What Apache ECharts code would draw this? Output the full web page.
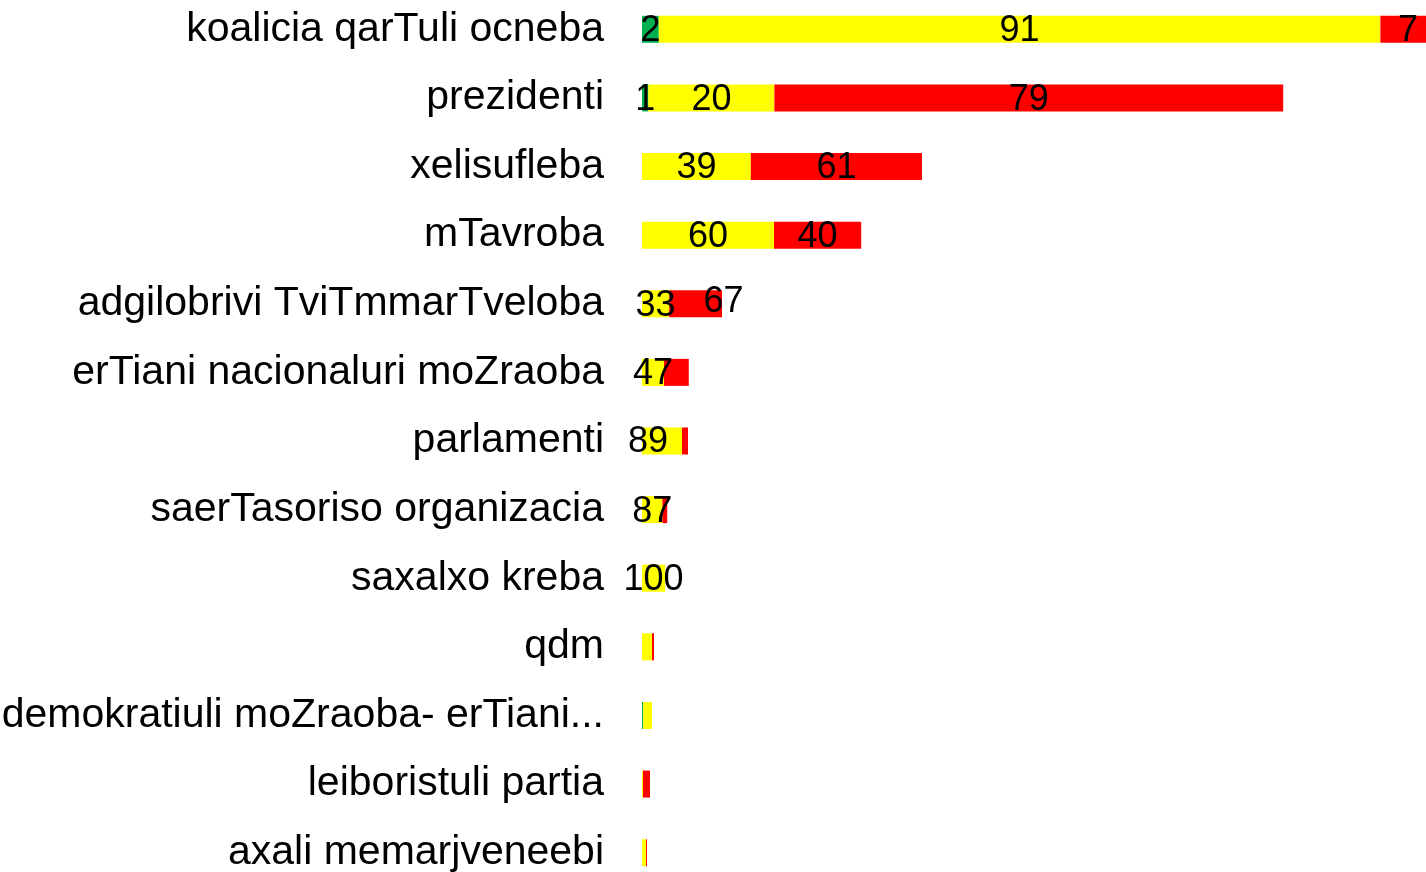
<!DOCTYPE html>
<html>
<head>
<meta charset="utf-8">
<title>chart</title>
<script src="https://cdn.jsdelivr.net/npm/echarts@6/dist/echarts.min.js"></script>
<style>
    html, body {margin: 0; padding: 0; background: #fff;}
    #main {width: 1426px; height: 872px;}
</style>
</head>
<body>
<div id="main"></div>
<script>
// categories, top to bottom
const categories = ['koalicia qarTuli ocneba', 'prezidenti', 'xelisufleba', 'mTavroba',
    'adgilobrivi TviTmmarTveloba', 'erTiani nacionaluri moZraoba', 'parlamenti',
    'saerTasoriso organizacia', 'saxalxo kreba', 'qdm', 'demokratiuli moZraoba- erTiani...',
    'leiboristuli partia', 'axali memarjveneebi'];

// bar lengths
const greenValues = [2.1, 0.8, 0, 0, 0, 0, 0, 0, 0, 0, 0.15, 0, 0];
const yellowValues = [90.2, 15.75, 13.6, 16.5, 3.4, 2.75, 5.0, 2.55, 2.9, 1.25, 1.1, 0.12, 0.5];
const redValues = [6.9, 63.6, 21.4, 10.9, 6.6, 3.1, 0.75, 0.6, 0, 0.25, 0, 0.88, 0.12];

// percentage labels shown on the bars (null = not shown)
const greenPct = [2, 1, null, null, null, null, null, null, null, null, null, null, null];
const yellowPct = [91, 20, 39, 60, 33, 47, 89, 87, 100, null, null, null, null];
const redPct = [7, 79, 61, 40, 67, null, null, null, null, null, null, null, null];

chartInit();

function buildSeries(name, color, values, pct) {
    let data = [];
    for (let i = 0; i < values.length; i++) {
        let item = {value: values[i]};
        //a couple of labels are nudged off centre in the original
        if (name === 'red' && i === 4) {
            item.label = {offset: [28, -2]};
        }
        if (name === 'yellow' && i === 6) {
            item.label = {offset: [-14, 1]};
        }
        data.push(item);
    }
    return {
        name: name,
        type: 'bar',
        stack: 'total',
        barWidth: 27,
        itemStyle: {color: color},
        label: {
            show: true,
            position: 'inside',
            offset: [0, 2],
            color: '#000',
            fontSize: 36,
            fontFamily: 'Liberation Sans',
            formatter: function (p) {
                let v = pct[p.dataIndex];
                return v == null ? '' : String(v);
            }
        },
        data: data
    };
}

function chartInit() {
    let chart = echarts.init(document.getElementById('main'));
    let option = {
        animation: false,
        grid: {
            left: 642,
            width: 800,
            top: -5,
            height: 892,
            outerBoundsMode: 'none'
        },
        xAxis: {
            type: 'value',
            min: 0,
            max: 100,
            show: false
        },
        yAxis: {
            type: 'category',
            inverse: true,
            data: categories,
            axisLine: {show: false},
            axisTick: {show: false},
            splitLine: {show: false},
            axisLabel: {
                color: '#000',
                fontSize: 41,
                fontFamily: 'Liberation Sans',
                margin: 38
            }
        },
        series: [
            buildSeries('green', '#00B050', greenValues, greenPct),
            buildSeries('yellow', '#FFFF00', yellowValues, yellowPct),
            buildSeries('red', '#FF0000', redValues, redPct)
        ]
    };
    chart.setOption(option);
}
</script>
</body>
</html>
